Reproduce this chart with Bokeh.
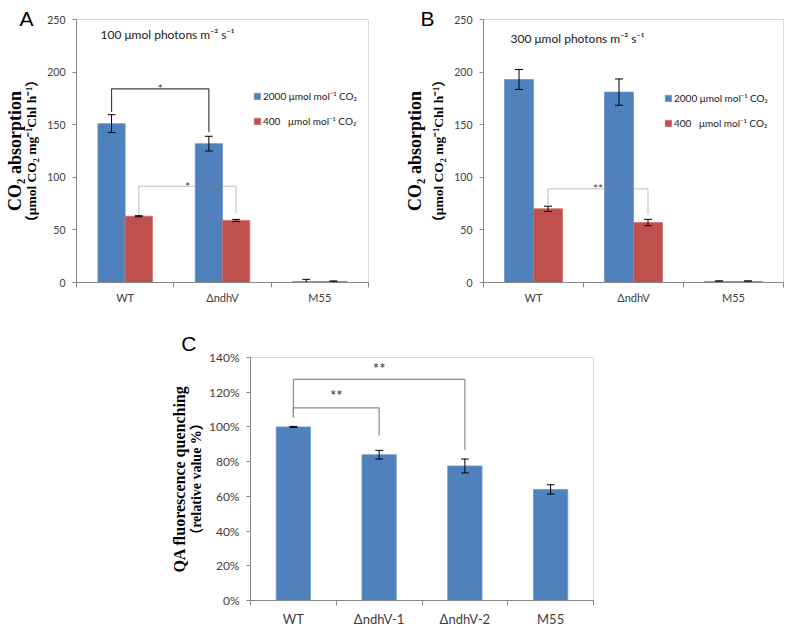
import numpy as np
from bokeh.plotting import figure
from bokeh.models import (FixedTicker, LinearAxis, Label, Legend, LegendItem,
                          PrintfTickFormatter, Range1d, Spacer)
from bokeh.layouts import row, column
from bokeh.embed import file_html
from bokeh.resources import INLINE
from bokeh.core.properties import value

# ---------------- data ----------------
cats_AB = ["WT", "ΔndhV", "M55"]
series_labels = ["2000 μmol mol⁻¹ CO₂", "400\u00a0\u00a0\u00a0μmol mol⁻¹ CO₂"]

a_hi = [151, 132, 1]
a_hi_err = [8.5, 7.0, 2.0]
a_lo = [63, 59, 1]
a_lo_err = [0.5, 1.0, 0.5]

b_hi = [193, 181, 1]
b_hi_err = [9.5, 12.5, 0.6]
b_lo = [70, 57, 1]
b_lo_err = [2.5, 3.0, 0.6]

ab_ticks = [0, 50, 100, 150, 200, 250]

cats_C = ["WT", "ΔndhV-1", "ΔndhV-2", "M55"]
c_val = [100, 84, 77.5, 64]          # percent
c_err = [0.3, 2.5, 4.0, 2.7]
c_ticks = [0, 20, 40, 60, 80, 100, 120, 140]

# significance brackets
a_sig_left = ["WT", "WT"]
a_sig_right = ["ΔndhV", "ΔndhV"]
a_sig_series = ["hi", "lo"]
a_sig_y = [184, 91.5]
a_sig_left_end = [162, 64.5]
a_sig_right_end = [143, 66]
a_sig_text = ["*", "*"]

b_sig_left = ["WT"]
b_sig_right = ["ΔndhV"]
b_sig_series = ["lo"]
b_sig_y = [89]
b_sig_left_end = [72.5]
b_sig_right_end = [65]
b_sig_text = ["**"]

c_sig_left = ["WT", "WT"]
c_sig_right = ["ΔndhV-1", "ΔndhV-2"]
c_sig_y = [111, 127.4]
c_sig_left_end = [105.4, 105.4]
c_sig_right_end = [95, 86.6]
c_sig_text = ["**", "**"]
c_sig_text_y = [118.5, 134]

# ---------------- style ----------------
BLUE = "#4F81BD"
RED = "#C0504D"
AXIS_GRAY = "#868686"
TICK_TXT = "#404040"
SANS = "Lato"
SERIF = "Liberation Serif"
SERIF_CJK = "'Liberation Serif', 'Noto Sans CJK SC'"


def base_fig(width, height, left, right, top, bottom, xr, yr):
    p = figure(width=width, height=height, x_range=xr, y_range=yr,
               output_backend="svg", toolbar_location=None,
               min_border_left=left, min_border_right=right,
               min_border_top=top, min_border_bottom=bottom)
    p.xgrid.visible = False
    p.ygrid.visible = False
    p.outline_line_color = "#d9d9d9"
    p.background_fill_color = "white"
    p.border_fill_color = "white"
    p.extra_y_ranges = {"letter": Range1d(0, 1)}
    return p


def style_axes(p, n, labels, ylabel_inner, ylabel_outer, yticks, xfont, yfont,
               inner_size, outer_size, inner_standoff, xstandoff,
               letter, letter_standoff, outer_standoff):
    xa = p.xaxis[0]
    xa.ticker = FixedTicker(ticks=list(range(n)),
                            minor_ticks=[i - 0.5 for i in range(n + 1)])
    xa.major_label_overrides = {i: lab for i, lab in enumerate(labels)}
    xa.major_tick_out = 0
    xa.major_tick_in = 0
    xa.minor_tick_out = 5
    xa.minor_tick_in = 0
    xa.minor_tick_line_color = AXIS_GRAY
    xa.axis_line_color = AXIS_GRAY
    xa.major_label_text_font = SANS
    xa.major_label_text_font_size = xfont
    xa.major_label_text_color = TICK_TXT
    xa.major_label_standoff = xstandoff

    ya = p.yaxis[0]
    ya.ticker = FixedTicker(ticks=yticks)
    ya.axis_line_color = AXIS_GRAY
    ya.major_tick_line_color = AXIS_GRAY
    ya.major_tick_out = 4
    ya.major_tick_in = 0
    ya.minor_tick_line_color = None
    ya.major_label_text_font = SANS
    ya.major_label_text_font_size = yfont
    ya.major_label_text_color = TICK_TXT
    ya.major_label_standoff = 7
    ya.axis_label = ylabel_inner
    ya.axis_label_text_font = SERIF_CJK
    ya.axis_label_text_font_style = "bold"
    ya.axis_label_text_font_size = inner_size
    ya.axis_label_text_color = "black"
    ya.axis_label_standoff = inner_standoff

    # outer axis: panel letter as its only tick label, main title as axis label
    outer = LinearAxis(y_range_name="letter", ticker=FixedTicker(ticks=[1]),
                       major_label_overrides={1: letter + "\n"},
                       major_label_text_font="Liberation Sans",
                       major_label_text_font_size="21px",
                       major_label_text_color="black",
                       major_label_standoff=letter_standoff,
                       axis_label=ylabel_outer,
                       axis_line_color=None, major_tick_line_color=None,
                       minor_tick_line_color=None, major_tick_out=0, major_tick_in=0,
                       minor_tick_out=0, minor_tick_in=0,
                       axis_label_standoff=outer_standoff,
                       axis_label_text_font=SERIF, axis_label_text_font_style="bold",
                       axis_label_text_font_size=outer_size,
                       axis_label_text_color="black")
    p.add_layout(outer, "left")


def draw_errors(p, x, top, err, cap):
    x = np.asarray(x, dtype=float)
    top = np.asarray(top, dtype=float)
    err = np.asarray(err, dtype=float)
    src = dict(x=x, lo=top - err, hi=top + err, xl=x - cap, xr=x + cap)
    p.segment(x0="x", y0="lo", x1="x", y1="hi", source=src, line_color="black", line_width=1)
    p.segment(x0="xl", y0="hi", x1="xr", y1="hi", source=src, line_color="black", line_width=1)
    p.segment(x0="xl", y0="lo", x1="xr", y1="lo", source=src, line_color="black", line_width=1)


def draw_bracket(p, xa, xb, h, e1, e2, color, dash, width):
    p.line(x=[xa, xa, xb, xb], y=[e1, h, h, e2], line_color=color, line_dash=dash,
           line_width=width)


def bar_panel(cats, hi, hi_err, lo, lo_err, off, bw, sig, subtitle, letter,
              width, height, left, right, top, bottom, sub_pos, leg_pos,
              sig_styles, inner_standoff, letter_standoff, outer_standoff):
    n = len(cats)
    p = base_fig(width, height, left, right, top, bottom,
                 Range1d(-0.5, n - 0.5), Range1d(0, 250))
    idx = np.arange(n)
    x_hi = idx - off
    x_lo = idx + off
    r_hi = p.vbar(x=x_hi, top=hi, width=bw, fill_color=BLUE, line_color="#6f97c8", line_width=0.8)
    r_lo = p.vbar(x=x_lo, top=lo, width=bw, fill_color=RED, line_color="#cd6f6c", line_width=0.8)
    draw_errors(p, x_hi, hi, hi_err, 0.04)
    draw_errors(p, x_lo, lo, lo_err, 0.04)

    s_left, s_right, s_series, s_y, s_le, s_re, s_txt = sig
    pos = {c: i for i, c in enumerate(cats)}
    for k in range(len(s_y)):
        o = -off if s_series[k] == "hi" else off
        xa = pos[s_left[k]] + o
        xb = pos[s_right[k]] + o
        color, dash, lw = sig_styles[k]
        draw_bracket(p, xa, xb, s_y[k], s_le[k], s_re[k], color, dash, lw)
        p.text(x=[(xa + xb) / 2], y=[s_y[k]], text=[s_txt[k]], text_align="center",
               text_baseline="middle", text_font=value(SANS), text_font_size="12px",
               text_color="#404040")

    style_axes(p, n, cats, "（μmol CO₂ mg⁻¹Chl h⁻¹）", "CO₂ absorption", ab_ticks,
               "11px", "10.5px", "13.5px", "18px", inner_standoff, 3,
               letter, letter_standoff, outer_standoff)

    legend = Legend(items=[LegendItem(label=series_labels[0], renderers=[r_hi]),
                           LegendItem(label=series_labels[1], renderers=[r_lo])],
                    location=leg_pos, orientation="vertical", glyph_width=8,
                    glyph_height=8, label_text_font=SANS, label_text_font_size="10px",
                    label_text_color="#202020", label_standoff=2, label_height=16,
                    spacing=9, padding=0, margin=0, border_line_color=None,
                    background_fill_alpha=0)
    p.add_layout(legend)

    p.add_layout(Label(x=sub_pos[0], y=sub_pos[1], x_units="screen", y_units="screen",
                       text=subtitle, text_font=SANS, text_font_size="12px",
                       text_color="#202020", text_baseline="middle", text_align="left"))
    return p


solid_dark = ("#404040", "solid", 1.2)
dotted = ("#7f7f7f", "1 1", 1)

pA = bar_panel(cats_AB, a_hi, a_hi_err, a_lo, a_lo_err, 0.14, 0.28,
               (a_sig_left, a_sig_right, a_sig_series, a_sig_y, a_sig_left_end,
                a_sig_right_end, a_sig_text),
               "100 μmol photons m⁻² s⁻¹", "A",
               395, 310, 76, 27, 19, 27, (24, 248), (177, 153),
               [solid_dark, dotted], 5, -12, -9)

pB = bar_panel(cats_AB, b_hi, b_hi_err, b_lo, b_lo_err, 0.145, 0.29,
               (b_sig_left, b_sig_right, b_sig_series, b_sig_y, b_sig_left_end,
                b_sig_right_end, b_sig_text),
               "300 μmol photons m⁻² s⁻¹", "B",
               392, 310, 88, 4, 17, 28, (27, 244), (181, 151),
               [dotted], 5, -6, -8)

# ---------------- panel C ----------------
nC = len(cats_C)
pC = base_fig(443, 319, 90, 10, 47, 25, Range1d(-0.5, nC - 0.5), Range1d(0, 140))
idxC = np.arange(nC)
pC.vbar(x=idxC, top=c_val, width=0.4, fill_color=BLUE, line_color="#6f97c8", line_width=0.8)
draw_errors(pC, idxC, c_val, c_err, 0.045)
posC = {c: i for i, c in enumerate(cats_C)}
for k in range(len(c_sig_y)):
    xa = posC[c_sig_left[k]]
    xb = posC[c_sig_right[k]]
    draw_bracket(pC, xa, xb, c_sig_y[k], c_sig_left_end[k], c_sig_right_end[k],
                 "#8c8c8c", "solid", 1.2)
    pC.text(x=[(xa + xb) / 2], y=[c_sig_text_y[k]], text=[c_sig_text[k]], text_align="center",
            text_baseline="middle", text_font=value(SANS), text_font_size="15px",
            text_color="#303030")

style_axes(pC, nC, cats_C, "（relative value %）", "QA fluorescence quenching", c_ticks,
           "13px", "12px", "14px", "16px", 2, 5, "C", -10, -10)
pC.yaxis[0].formatter = PrintfTickFormatter(format="%d%%")

layout = column(row(pA, pB), row(Spacer(width=160, height=10), pC))

open("out.html", "w").write(file_html(layout, INLINE))
